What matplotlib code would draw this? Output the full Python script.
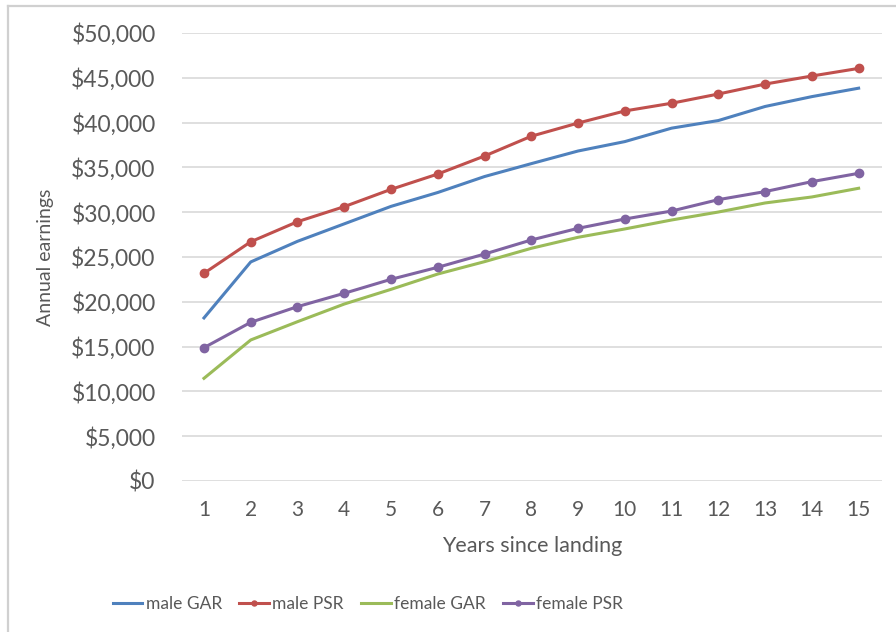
import matplotlib
matplotlib.use("Agg")
import matplotlib.pyplot as plt
from matplotlib.lines import Line2D
from matplotlib.ticker import FuncFormatter

plt.rcParams['font.family'] = ['Lato', 'DejaVu Sans']

# annual earnings by years since landing
years = list(range(1, 16))
male_gar = [18200, 24450, 26750, 28700, 30650, 32200, 33980, 35420, 36830,
            37880, 39380, 40230, 41800, 42900, 43840]
male_psr = [23180, 26700, 28940, 30620, 32550, 34260, 36270, 38480, 39950,
            41300, 42160, 43190, 44300, 45200, 46050]
female_gar = [11460, 15740, 17780, 19750, 21390, 23100, 24480, 25970, 27200,
              28130, 29130, 30020, 31030, 31700, 32670]
female_psr = [14880, 17710, 19460, 20950, 22510, 23850, 25330, 26900, 28200,
              29240, 30130, 31400, 32300, 33410, 34340]

y_ticks = list(range(0, 50001, 5000))

BLUE = '#4F81BD'
RED = '#C0504D'
GREEN = '#9BBB59'
PURPLE = '#8064A2'
TEXT = '#595959'

fig = plt.figure(figsize=(8.96, 6.32), dpi=100)
ax = fig.add_axes([182 / 896, 1 - 481 / 632, (882 - 182) / 896, (481 - 33) / 632])

ax.plot(years, male_gar, color=BLUE, lw=2.2, label='male GAR')
ax.plot(years, male_psr, color=RED, lw=2.2, marker='o', ms=6, label='male PSR')
ax.plot(years, female_gar, color=GREEN, lw=2.2, label='female GAR')
ax.plot(years, female_psr, color=PURPLE, lw=2.2, marker='o', ms=6, label='female PSR')

ax.set_xlim(0.53, 15.5)
ax.set_ylim(0, 50000)
ax.set_xticks(years)
ax.set_yticks(y_ticks)
ax.yaxis.set_major_formatter(FuncFormatter(lambda v, p: f'${v:,.0f}'))
ax.grid(axis='y', color='#D9D9D9', lw=1.2)
ax.set_axisbelow(True)
for s in ax.spines.values():
    s.set_visible(False)
ax.tick_params(length=0, colors=TEXT)
ax.tick_params(axis='y', pad=19, labelsize=16.5)
ax.tick_params(axis='x', pad=14, labelsize=15)

ax.set_xlabel('Years since landing', fontsize=15.5, color=TEXT, labelpad=11)
fig.text(45 / 896, 1 - 257 / 632, 'Annual earnings', rotation=90,
         ha='center', va='center', fontsize=14, color=TEXT)

fig.legend(loc='center', bbox_to_anchor=(368 / 896, 1 - 604 / 632), ncol=4,
           frameon=False, fontsize=12.5, labelcolor=TEXT, handlelength=1.7,
           handletextpad=0.2, columnspacing=1.0, markerscale=0.6)

# chart frame (left and top edges)
fig.add_artist(Line2D([8 / 896, 8 / 896], [0, 1 - 6 / 632], color='#D0D0D0', lw=1.6))
fig.add_artist(Line2D([8 / 896, 1], [1 - 6 / 632, 1 - 6 / 632], color='#D0D0D0', lw=1.6))

fig.savefig('out.png', dpi=100)
